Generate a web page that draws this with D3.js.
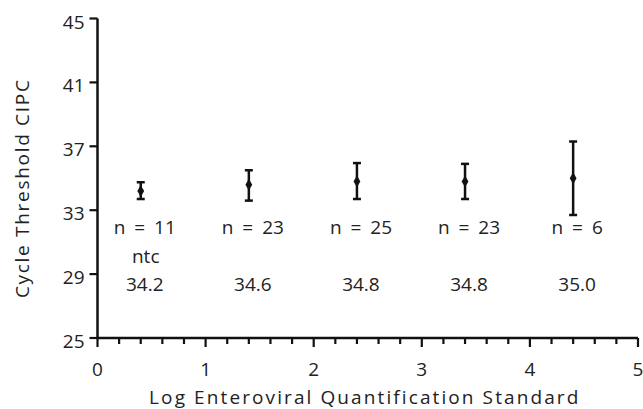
<!DOCTYPE html>
<html><head><meta charset="utf-8">
<script src="https://cdn.jsdelivr.net/npm/d3@7"></script>
<style>body{margin:0;background:#fff}svg{display:block}text{font-family:"Open Sans",sans-serif;fill:#222}</style>
</head><body><svg id="c" width="643" height="409"></svg>
<script>
const xPos = [0.4, 1.4, 2.4, 3.4, 4.4];
const means = [34.2, 34.6, 34.8, 34.8, 35.0];
const errLow = [33.7, 33.6, 33.7, 33.7, 32.7];
const errHigh = [34.75, 35.5, 35.95, 35.9, 37.3];
const nLabels = ["n = 11", "n = 23", "n = 25", "n = 23", "n = 6"];
const extraLabels = ["ntc", "", "", "", ""];
const meanLabels = ["34.2", "34.6", "34.8", "34.8", "35.0"];
const yTicks = [25, 29, 33, 37, 41, 45];
const xTicks = [0, 1, 2, 3, 4, 5];

const svg = d3.select("#c");
const x = d3.scaleLinear().domain([0, 5]).range([97.5, 638]);
const y = d3.scaleLinear().domain([25, 45]).range([338, 18.5]);
const FS = 19;

// minor x ticks
const minor = d3.range(0, 5.01, 0.2).map(v => +v.toFixed(1));
svg.append("g").selectAll("line").data(minor).join("line")
  .attr("x1", d => x(d)).attr("x2", d => x(d))
  .attr("y1", y(25)).attr("y2", d => Number.isInteger(d) ? y(25) + 9 : y(25) + 6)
  .attr("stroke", "#111").attr("stroke-width", 2.2);

// axes lines
svg.append("line").attr("x1", x(0)).attr("x2", x(5)).attr("y1", y(25)).attr("y2", y(25))
  .attr("stroke", "#111").attr("stroke-width", 2.5);
svg.append("line").attr("x1", x(0)).attr("x2", x(0)).attr("y1", y(25)).attr("y2", y(45))
  .attr("stroke", "#111").attr("stroke-width", 2.5);

// y ticks
svg.append("g").selectAll("line").data(yTicks).join("line")
  .attr("x1", x(0) - 8).attr("x2", x(0)).attr("y1", d => y(d)).attr("y2", d => y(d))
  .attr("stroke", "#111").attr("stroke-width", 2.2);
svg.append("g").selectAll("text").data(yTicks).join("text")
  .attr("x", x(0) - 13).attr("y", d => y(d) + 10)
  .attr("text-anchor", "end").attr("font-size", FS).text(d => d);

// x tick labels
svg.append("g").selectAll("text").data(xTicks).join("text")
  .attr("x", d => x(d)).attr("y", 376).attr("text-anchor", "middle")
  .attr("font-size", FS).text(d => d);

// axis titles
svg.append("text").attr("x", (x(0) + x(5)) / 2 - 3).attr("y", 404).attr("text-anchor", "middle")
  .attr("font-size", FS).attr("letter-spacing", 2.1).text("Log Enteroviral Quantification Standard");
svg.append("text").attr("transform", `translate(29,${(y(25) + y(45)) / 2 + 10}) rotate(-90)`)
  .attr("text-anchor", "middle").attr("font-size", FS).attr("letter-spacing", 1.7)
  .text("Cycle Threshold CIPC");

// error bars
const g = svg.append("g");
xPos.forEach((xv, i) => {
  const cx = x(xv);
  g.append("line").attr("x1", cx).attr("x2", cx).attr("y1", y(errLow[i])).attr("y2", y(errHigh[i]))
    .attr("stroke", "#111").attr("stroke-width", 2.5);
  [errLow[i], errHigh[i]].forEach(v => {
    g.append("line").attr("x1", cx - 4).attr("x2", cx + 4).attr("y1", y(v)).attr("y2", y(v))
      .attr("stroke", "#111").attr("stroke-width", 2.5);
  });
  g.append("path").attr("d", d3.symbol(d3.symbolDiamond, 40)())
    .attr("transform", `translate(${cx},${y(means[i])})`).attr("fill", "#111");
  g.append("text").attr("x", cx + 4).attr("y", 234).attr("text-anchor", "middle")
    .attr("font-size", FS).attr("word-spacing", 4).text(nLabels[i]);
  if (extraLabels[i]) g.append("text").attr("x", cx + 5).attr("y", 263).attr("text-anchor", "middle")
    .attr("font-size", FS).text(extraLabels[i]);
  g.append("text").attr("x", cx + 4).attr("y", 291).attr("text-anchor", "middle")
    .attr("font-size", FS).text(meanLabels[i]);
});
</script></body></html>
